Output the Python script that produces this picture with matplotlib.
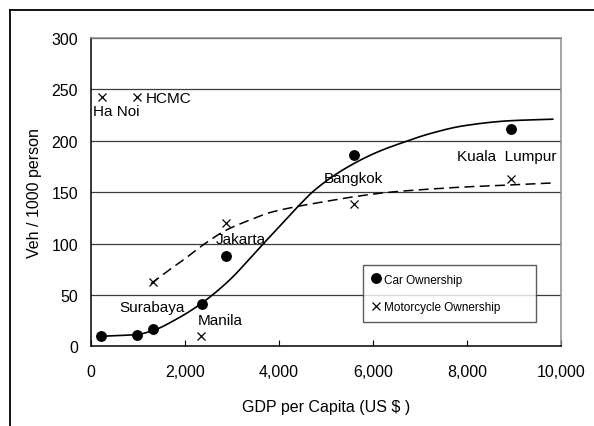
import matplotlib
matplotlib.use("Agg")
import matplotlib.pyplot as plt
from matplotlib.lines import Line2D
import numpy as np

plt.rcParams['font.family'] = ['Liberation Sans', 'DejaVu Sans']

# Data points (GDP per capita, vehicles / 1000 persons)
car_gdp = [210, 980, 1320, 2360, 2870, 5600, 8930]
car_own = [10, 11, 17, 41, 88, 186, 211]
moto_gdp = [230, 985, 1330, 2355, 2870, 5600, 8930]
moto_own = [243, 243, 63, 10, 120, 138, 163]

# Trend lines
car_trend_gdp = [210, 980, 1332, 1830, 2362, 2964, 3532, 4098, 4417, 4737,
                 5374, 6085, 6651, 7219, 7921, 8920, 9830]
car_trend_val = [9.8, 11.5, 15.5, 26.6, 42, 65, 93, 120.7, 136.5, 151,
                 172, 188.8, 198.5, 207, 214.5, 219.5, 221]
moto_trend_gdp = [1280, 1600, 1970, 2400, 2879, 3389, 3800, 4383, 5000, 5517,
                  6368, 7219, 7928, 8921, 9843]
moto_trend_val = [61, 72, 84, 99, 113, 123, 130, 136, 141, 145,
                  150, 153, 155, 157, 159]

# City labels: (text, gdp, value, ha)
city_labels = [
    ("Ha Noi", 40, 228.5, "left"),
    ("HCMC", 1170, 242, "left"),
    ("Surabaya", 1315, 38.7, "center"),
    ("Manila", 2751, 25.8, "center"),
    ("Jakarta", 3183, 104.4, "center"),
    ("Bangkok", 5588, 163.8, "center"),
    ("Kuala  Lumpur", 8847, 185, "center"),
]

x_ticks = [0, 2000, 4000, 6000, 8000, 10000]
x_ticklabels = ["0", "2,000", "4,000", "6,000", "8,000", "10,000"]
y_ticks = [0, 50, 100, 150, 200, 250, 300]


def smooth_curve(xs, ys, n=400):
    """Monotone cubic (Fritsch-Carlson) curve through the read trend points."""
    x = np.asarray(xs, float)
    y = np.asarray(ys, float)
    h = np.diff(x)
    d = np.diff(y) / h
    m = np.zeros_like(x)
    m[0], m[-1] = d[0], d[-1]
    for i in range(1, len(x) - 1):
        if d[i - 1] * d[i] <= 0:
            m[i] = 0
        else:
            w1 = 2 * h[i] + h[i - 1]
            w2 = h[i] + 2 * h[i - 1]
            m[i] = (w1 + w2) / (w1 / d[i - 1] + w2 / d[i])
    xx = np.linspace(x[0], x[-1], n)
    idx = np.clip(np.searchsorted(x, xx) - 1, 0, len(x) - 2)
    t = (xx - x[idx]) / h[idx]
    h00 = 2 * t**3 - 3 * t**2 + 1
    h10 = t**3 - 2 * t**2 + t
    h01 = -2 * t**3 + 3 * t**2
    h11 = t**3 - t**2
    yy = (h00 * y[idx] + h10 * h[idx] * m[idx]
          + h01 * y[idx + 1] + h11 * h[idx] * m[idx + 1])
    return xx, yy


fig = plt.figure(figsize=(5.94, 4.27), dpi=100)
ax = fig.add_axes([0.1527, 0.1866, 0.7917, 0.7221])

# outer frame (only top and left visible)
fig.add_artist(Line2D([9.5/594, 9.5/594], [0, 1 - 10.5/427], transform=fig.transFigure,
                      color='black', lw=1.3))
fig.add_artist(Line2D([9.5/594, 1], [1 - 10.5/427, 1 - 10.5/427], transform=fig.transFigure,
                      color='black', lw=1.3))

ax.set_xlim(0, 10000)
ax.set_ylim(0, 300)
for yv in y_ticks[1:]:
    ax.axhline(yv, color='#3c3c3c', lw=0.9, zorder=1)

cx, cy = smooth_curve(car_trend_gdp, car_trend_val)
ax.plot(cx, cy, color='black', lw=1.2, zorder=3, solid_capstyle='round')
mx, my = smooth_curve(moto_trend_gdp, moto_trend_val)
ax.plot(mx, my, color='black', lw=1.1, zorder=3, dashes=(6.5, 3.5))

ax.plot(car_gdp, car_own, linestyle='none', marker='o', ms=6.8, color='black',
        zorder=4, label='Car Ownership')
ax.plot(moto_gdp, moto_own, linestyle='none', marker='x', ms=6, mew=0.9,
        color='black', zorder=4, label='Motorcycle Ownership')

for txt, gx, gy, ha in city_labels:
    ax.text(gx, gy, txt, ha=ha, va='center', fontsize=11, zorder=5)

ax.set_xticks(x_ticks)
ax.set_xticklabels(x_ticklabels)
ax.set_yticks(y_ticks)
ax.tick_params(axis='x', direction='in', length=4.5, width=0.8, pad=13, labelsize=11.5)
ax.tick_params(axis='y', direction='in', length=0, pad=9, labelsize=11.5)

for side in ['left', 'bottom']:
    ax.spines[side].set_color('black')
    ax.spines[side].set_linewidth(1.1)
for side in ['top', 'right']:
    ax.spines[side].set_color('#8a8a8a')
    ax.spines[side].set_linewidth(1.1)

ax.set_xlabel("GDP per Capita (US $ )", fontsize=11.5, labelpad=14)
ax.set_ylabel("Veh / 1000 person", fontsize=11.5, labelpad=7)

leg = ax.legend(loc='lower left', bbox_to_anchor=(0.5797, 0.0798, 0.368, 0.178),
                mode='expand', fontsize=8.5, frameon=True, fancybox=False,
                borderpad=0.75, labelspacing=1.3, handlelength=0.6,
                handletextpad=0.4, borderaxespad=0)
leg.get_frame().set_edgecolor('#333333')
leg.get_frame().set_linewidth(1.0)
leg.set_zorder(6)

fig.savefig("out.png", dpi=100)
